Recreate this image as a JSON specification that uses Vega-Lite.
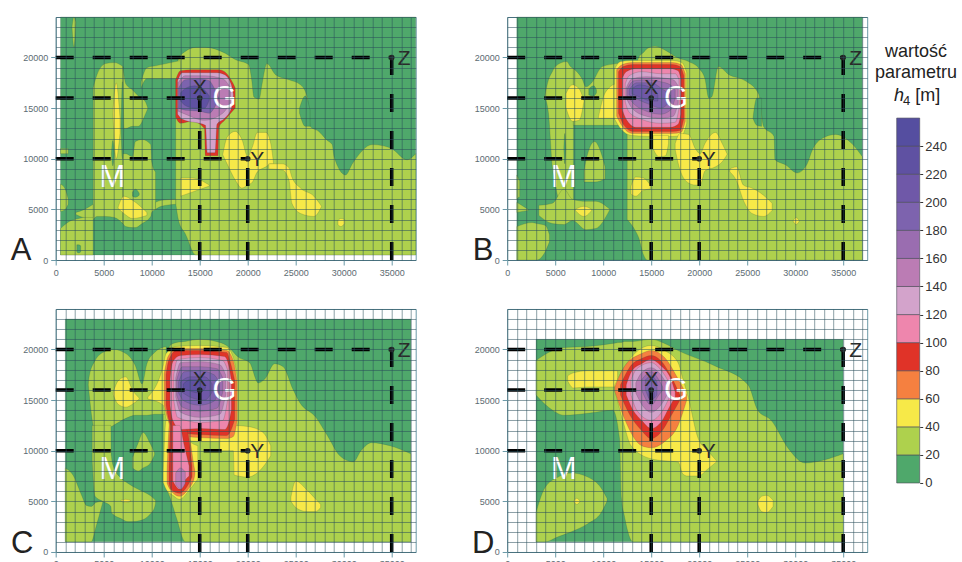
{"$schema":"https://vega.github.io/schema/vega-lite/v6.json","background":"white","padding":{"left":9.7,"top":12,"right":0,"bottom":0},
"config":{"view":{"stroke":"#6b9aa8","strokeWidth":1},"font":"Liberation Sans","axis":{"title":null,"grid":true,"gridColor":"#2a4f5c","gridOpacity":0.68,"gridWidth":0.8,"domain":false,"labelFontSize":9,"labelColor":"#5c6b72","labelOverlap":false,"labelFlush":false,"tickColor":"#6b9aa8","labelPadding":3}},
"datasets":{
"lines":[{"x":0,"x2":35000,"y":20000,"y2":20000},{"x":0,"x2":15000,"y":16000,"y2":16000},{"x":0,"x2":20000,"y":10000,"y2":10000},{"x":15000,"x2":15000,"y":0,"y2":16000},{"x":20000,"x2":20000,"y":0,"y2":10000},{"x":35000,"x2":35000,"y":0,"y2":20000}],
"points":[{"x":35000,"y":20000},{"x":15000,"y":16000},{"x":20000,"y":10000}],
"dark":[{"t":"X","x":15000,"y":16950},{"t":"Y","x":21000,"y":9870},{"t":"Z","x":36300,"y":19900}],
"white":[{"t":"G","x":17600,"y":15900},{"t":"M","x":5900,"y":8060}],
"letters":[{"p":"A","t":"A","x":-3600,"y":900},{"p":"B","t":"B","x":-2500,"y":900},{"p":"C","t":"C","x":-3500,"y":800},{"p":"D","t":"D","x":-2500,"y":800}],
"bins":[{"l":10,"x":0,"x2":1,"y":0,"y2":20},{"l":30,"x":0,"x2":1,"y":20,"y2":40},{"l":50,"x":0,"x2":1,"y":40,"y2":60},{"l":70,"x":0,"x2":1,"y":60,"y2":80},{"l":90,"x":0,"x2":1,"y":80,"y2":100},{"l":110,"x":0,"x2":1,"y":100,"y2":120},{"l":130,"x":0,"x2":1,"y":120,"y2":140},{"l":150,"x":0,"x2":1,"y":140,"y2":160},{"l":170,"x":0,"x2":1,"y":160,"y2":180},{"l":190,"x":0,"x2":1,"y":180,"y2":200},{"l":210,"x":0,"x2":1,"y":200,"y2":220},{"l":230,"x":0,"x2":1,"y":220,"y2":240},{"l":250,"x":0,"x2":1,"y":240,"y2":260}],
"contours":[
{"p":"A","b":0,"l":10,"x":500,"y":500,"y2":24000},{"p":"A","b":0,"l":10,"x":37500,"y":500,"y2":24000},
{"p":"A","b":1,"l":30,"x":12500,"y":5600,"y2":17900},{"p":"A","b":1,"l":30,"x":12800,"y":3900,"y2":19900},{"p":"A","b":1,"l":30,"x":13500,"y":2600,"y2":20600},{"p":"A","b":1,"l":30,"x":14600,"y":500,"y2":21000},{"p":"A","b":1,"l":30,"x":15600,"y":500,"y2":21000},{"p":"A","b":1,"l":30,"x":17700,"y":500,"y2":20400},{"p":"A","b":1,"l":30,"x":18700,"y":500,"y2":19800},{"p":"A","b":1,"l":30,"x":20100,"y":500,"y2":19300},{"p":"A","b":1,"l":30,"x":20400,"y":500,"y2":17900},{"p":"A","b":1,"l":30,"x":20650,"y":500,"y2":16100},{"p":"A","b":1,"l":30,"x":21200,"y":500,"y2":15900},{"p":"A","b":1,"l":30,"x":21500,"y":500,"y2":17400},{"p":"A","b":1,"l":30,"x":22000,"y":500,"y2":19400},{"p":"A","b":1,"l":30,"x":22900,"y":500,"y2":18300},{"p":"A","b":1,"l":30,"x":24300,"y":500,"y2":17800},{"p":"A","b":1,"l":30,"x":25500,"y":500,"y2":17300},{"p":"A","b":1,"l":30,"x":26200,"y":500,"y2":16100},{"p":"A","b":1,"l":30,"x":26500,"y":500,"y2":13200},{"p":"A","b":1,"l":30,"x":27400,"y":500,"y2":12700},{"p":"A","b":1,"l":30,"x":28300,"y":500,"y2":11800},{"p":"A","b":1,"l":30,"x":28800,"y":500,"y2":11400},{"p":"A","b":1,"l":30,"x":29000,"y":500,"y2":10200},{"p":"A","b":1,"l":30,"x":30200,"y":500,"y2":8400},{"p":"A","b":1,"l":30,"x":30900,"y":500,"y2":9500},{"p":"A","b":1,"l":30,"x":33000,"y":500,"y2":11400},{"p":"A","b":1,"l":30,"x":34000,"y":500,"y2":11300},{"p":"A","b":1,"l":30,"x":35000,"y":500,"y2":11000},{"p":"A","b":1,"l":30,"x":36600,"y":500,"y2":9900},{"p":"A","b":1,"l":30,"x":37500,"y":500,"y2":10500},
{"p":"A","b":2,"l":10,"x":25400,"y":14500,"y2":15000},{"p":"A","b":2,"l":10,"x":26000,"y":13200,"y2":16200},{"p":"A","b":2,"l":10,"x":26500,"y":13200,"y2":14800},
{"p":"A","b":3,"l":30,"x":8900,"y":17000,"y2":17600},{"p":"A","b":3,"l":30,"x":9500,"y":17900,"y2":19000},{"p":"A","b":3,"l":30,"x":10500,"y":17900,"y2":19200},{"p":"A","b":3,"l":30,"x":13000,"y":17900,"y2":19700},
{"p":"A","b":4,"l":30,"x":3900,"y":4000,"y2":17000},{"p":"A","b":4,"l":30,"x":4300,"y":4300,"y2":18300},{"p":"A","b":4,"l":30,"x":5200,"y":4300,"y2":19400},{"p":"A","b":4,"l":30,"x":6100,"y":4200,"y2":19500},{"p":"A","b":4,"l":30,"x":7000,"y":3600,"y2":19100},
{"p":"A","b":5,"l":30,"x":7000,"y":13000,"y2":19100},{"p":"A","b":5,"l":30,"x":7300,"y":13000,"y2":17400},{"p":"A","b":5,"l":30,"x":8000,"y":13200,"y2":16800},{"p":"A","b":5,"l":30,"x":8600,"y":13200,"y2":16200},{"p":"A","b":5,"l":30,"x":9300,"y":14300,"y2":15700},{"p":"A","b":5,"l":30,"x":9600,"y":15000,"y2":15000},
{"p":"A","b":6,"l":30,"x":7000,"y":3600,"y2":10500},{"p":"A","b":6,"l":30,"x":7300,"y":3300,"y2":10500},{"p":"A","b":6,"l":30,"x":8000,"y":3200,"y2":10200},{"p":"A","b":6,"l":30,"x":8300,"y":3200,"y2":11700},{"p":"A","b":6,"l":30,"x":9000,"y":3600,"y2":11900},{"p":"A","b":6,"l":30,"x":9900,"y":4300,"y2":11400},{"p":"A","b":6,"l":30,"x":10000,"y":4700,"y2":9700},{"p":"A","b":6,"l":30,"x":10400,"y":5000,"y2":8700},
{"p":"A","b":7,"l":30,"x":10400,"y":5000,"y2":5700},{"p":"A","b":7,"l":30,"x":11000,"y":5300,"y2":5900},{"p":"A","b":7,"l":30,"x":12500,"y":5500,"y2":6000},
{"p":"A","b":8,"l":30,"x":500,"y":500,"y2":3100},{"p":"A","b":8,"l":30,"x":1400,"y":500,"y2":3800},{"p":"A","b":8,"l":30,"x":2400,"y":500,"y2":4100},{"p":"A","b":8,"l":30,"x":3200,"y":500,"y2":4300},{"p":"A","b":8,"l":30,"x":3900,"y":500,"y2":4600},
{"p":"A","b":9,"l":30,"x":500,"y":4800,"y2":7500},{"p":"A","b":9,"l":30,"x":1000,"y":5000,"y2":7000},{"p":"A","b":9,"l":30,"x":1300,"y":5500,"y2":6000},
{"p":"A","b":10,"l":30,"x":500,"y":10500,"y2":11000},{"p":"A","b":10,"l":30,"x":1300,"y":10500,"y2":11000},
{"p":"A","b":11,"l":30,"x":2100,"y":4500,"y2":4700},{"p":"A","b":11,"l":30,"x":3000,"y":4200,"y2":5000},{"p":"A","b":11,"l":30,"x":3900,"y":4200,"y2":5500},
{"p":"A","b":12,"l":10,"x":2200,"y":800,"y2":1500},{"p":"A","b":12,"l":10,"x":2400,"y":700,"y2":1500},{"p":"A","b":12,"l":10,"x":2600,"y":800,"y2":1400},
{"p":"A","b":13,"l":10,"x":8000,"y":6300,"y2":6700},{"p":"A","b":13,"l":10,"x":8300,"y":6200,"y2":7000},{"p":"A","b":13,"l":10,"x":8700,"y":6400,"y2":6600},
{"p":"A","b":14,"l":10,"x":5800,"y":10500,"y2":10500},{"p":"A","b":14,"l":10,"x":5950,"y":9300,"y2":11800},{"p":"A","b":14,"l":10,"x":6100,"y":10500,"y2":10500},
{"p":"A","b":15,"l":10,"x":6800,"y":13000,"y2":13000},{"p":"A","b":15,"l":10,"x":6950,"y":10000,"y2":17600},{"p":"A","b":15,"l":10,"x":7100,"y":13000,"y2":13000},
{"p":"A","b":16,"l":30,"x":1700,"y":23000,"y2":23000},{"p":"A","b":16,"l":30,"x":1900,"y":21000,"y2":24000},{"p":"A","b":16,"l":30,"x":2100,"y":23500,"y2":23500},
{"p":"A","b":17,"l":50,"x":5950,"y":14500,"y2":14500},{"p":"A","b":17,"l":50,"x":6300,"y":10000,"y2":17500},{"p":"A","b":17,"l":50,"x":6700,"y":12500,"y2":14000},
{"p":"A","b":18,"l":50,"x":17400,"y":10400,"y2":10400},{"p":"A","b":18,"l":50,"x":17900,"y":9400,"y2":12200},{"p":"A","b":18,"l":50,"x":18700,"y":7900,"y2":12700},{"p":"A","b":18,"l":50,"x":19400,"y":7100,"y2":11900},{"p":"A","b":18,"l":50,"x":20000,"y":7400,"y2":10200},{"p":"A","b":18,"l":50,"x":20500,"y":7700,"y2":11200},{"p":"A","b":18,"l":50,"x":21000,"y":8700,"y2":12600},{"p":"A","b":18,"l":50,"x":21900,"y":9200,"y2":12600},{"p":"A","b":18,"l":50,"x":22400,"y":9500,"y2":11500},{"p":"A","b":18,"l":50,"x":22700,"y":9500,"y2":9500},
{"p":"A","b":19,"l":50,"x":22200,"y":9000,"y2":9500},{"p":"A","b":19,"l":50,"x":23600,"y":8900,"y2":9500},{"p":"A","b":19,"l":50,"x":24300,"y":7900,"y2":9100},{"p":"A","b":19,"l":50,"x":24600,"y":5600,"y2":8200},{"p":"A","b":19,"l":50,"x":25500,"y":4600,"y2":7100},{"p":"A","b":19,"l":50,"x":26900,"y":4300,"y2":6300},{"p":"A","b":19,"l":50,"x":27700,"y":5300,"y2":5300},
{"p":"A","b":20,"l":50,"x":13000,"y":6300,"y2":8100},{"p":"A","b":20,"l":50,"x":14200,"y":6700,"y2":8100},{"p":"A","b":20,"l":50,"x":16000,"y":7300,"y2":7400},
{"p":"A","b":21,"l":50,"x":6500,"y":5100,"y2":5200},{"p":"A","b":21,"l":50,"x":7100,"y":4600,"y2":6300},{"p":"A","b":21,"l":50,"x":8000,"y":4100,"y2":5900},{"p":"A","b":21,"l":50,"x":9500,"y":4400,"y2":4700},
{"p":"A","b":22,"l":50,"x":29400,"y":3500,"y2":3900},{"p":"A","b":22,"l":50,"x":29700,"y":3300,"y2":4100},{"p":"A","b":22,"l":50,"x":30100,"y":3600,"y2":4000},
{"p":"A","b":23,"l":90,"x":12500,"y":14100,"y2":17800},{"p":"A","b":23,"l":90,"x":13000,"y":13500,"y2":18700},{"p":"A","b":23,"l":90,"x":14200,"y":13700,"y2":18800},{"p":"A","b":23,"l":90,"x":15500,"y":13000,"y2":18800},{"p":"A","b":23,"l":90,"x":15600,"y":10300,"y2":18800},{"p":"A","b":23,"l":90,"x":16900,"y":10300,"y2":18800},{"p":"A","b":23,"l":90,"x":17000,"y":13100,"y2":18800},{"p":"A","b":23,"l":90,"x":17600,"y":13800,"y2":18600},{"p":"A","b":23,"l":90,"x":18500,"y":14800,"y2":17400},{"p":"A","b":23,"l":90,"x":18700,"y":15000,"y2":17000},
{"p":"A","b":24,"l":130,"x":12700,"y":14400,"y2":17700},{"p":"A","b":24,"l":130,"x":13200,"y":13900,"y2":18500},{"p":"A","b":24,"l":130,"x":15600,"y":13300,"y2":18500},{"p":"A","b":24,"l":130,"x":15800,"y":10600,"y2":18500},{"p":"A","b":24,"l":130,"x":16600,"y":10600,"y2":18500},{"p":"A","b":24,"l":130,"x":16800,"y":13400,"y2":18500},{"p":"A","b":24,"l":130,"x":17600,"y":14000,"y2":18300},{"p":"A","b":24,"l":130,"x":18300,"y":15000,"y2":17300},{"p":"A","b":24,"l":130,"x":18500,"y":15800,"y2":16400},
{"p":"A","b":25,"l":150,"x":12750,"y":14700,"y2":17500},{"p":"A","b":25,"l":150,"x":13500,"y":14400,"y2":18200},{"p":"A","b":25,"l":150,"x":15500,"y":13800,"y2":18200},{"p":"A","b":25,"l":150,"x":17400,"y":14500,"y2":17900},{"p":"A","b":25,"l":150,"x":18200,"y":15500,"y2":17000},
{"p":"A","b":26,"l":190,"x":12800,"y":15000,"y2":17000},{"p":"A","b":26,"l":190,"x":13500,"y":14800,"y2":17800},{"p":"A","b":26,"l":190,"x":15000,"y":14700,"y2":17900},{"p":"A","b":26,"l":190,"x":16000,"y":14500,"y2":17700},{"p":"A","b":26,"l":190,"x":16500,"y":15000,"y2":17000},{"p":"A","b":26,"l":190,"x":17000,"y":16000,"y2":16000},
{"p":"A","b":27,"l":230,"x":13000,"y":15700,"y2":16500},{"p":"A","b":27,"l":230,"x":13600,"y":15200,"y2":17000},{"p":"A","b":27,"l":230,"x":14500,"y":15000,"y2":17200},{"p":"A","b":27,"l":230,"x":15500,"y":15000,"y2":16800},{"p":"A","b":27,"l":230,"x":16000,"y":15800,"y2":16200},

{"p":"B","b":0,"l":10,"x":1000,"y":0,"y2":24000},{"p":"B","b":0,"l":10,"x":37000,"y":0,"y2":24000},
{"p":"B","b":1,"l":30,"x":12500,"y":4000,"y2":14000},{"p":"B","b":1,"l":30,"x":13400,"y":2800,"y2":19000},{"p":"B","b":1,"l":30,"x":13700,"y":2200,"y2":20000},{"p":"B","b":1,"l":30,"x":14200,"y":500,"y2":20500},{"p":"B","b":1,"l":30,"x":14600,"y":0,"y2":20900},{"p":"B","b":1,"l":30,"x":15400,"y":0,"y2":21100},{"p":"B","b":1,"l":30,"x":16500,"y":0,"y2":20700},{"p":"B","b":1,"l":30,"x":17700,"y":0,"y2":20000},{"p":"B","b":1,"l":30,"x":18900,"y":0,"y2":19600},{"p":"B","b":1,"l":30,"x":20000,"y":0,"y2":18900},{"p":"B","b":1,"l":30,"x":20600,"y":0,"y2":17900},{"p":"B","b":1,"l":30,"x":21000,"y":0,"y2":16000},{"p":"B","b":1,"l":30,"x":21300,"y":0,"y2":16100},{"p":"B","b":1,"l":30,"x":22000,"y":0,"y2":19100},{"p":"B","b":1,"l":30,"x":23100,"y":0,"y2":18300},{"p":"B","b":1,"l":30,"x":24800,"y":0,"y2":17700},{"p":"B","b":1,"l":30,"x":26200,"y":0,"y2":16400},{"p":"B","b":1,"l":30,"x":26700,"y":0,"y2":13200},{"p":"B","b":1,"l":30,"x":27800,"y":0,"y2":12200},{"p":"B","b":1,"l":30,"x":27900,"y":0,"y2":9900},{"p":"B","b":1,"l":30,"x":29000,"y":0,"y2":9400},{"p":"B","b":1,"l":30,"x":30200,"y":0,"y2":8600},{"p":"B","b":1,"l":30,"x":31200,"y":0,"y2":9400},{"p":"B","b":1,"l":30,"x":31800,"y":0,"y2":10900},{"p":"B","b":1,"l":30,"x":32800,"y":0,"y2":12000},{"p":"B","b":1,"l":30,"x":34200,"y":0,"y2":12400},{"p":"B","b":1,"l":30,"x":35900,"y":0,"y2":11500},{"p":"B","b":1,"l":30,"x":37000,"y":0,"y2":10200},
{"p":"B","b":2,"l":10,"x":25600,"y":14000,"y2":14000},{"p":"B","b":2,"l":10,"x":26000,"y":13300,"y2":16000},{"p":"B","b":2,"l":10,"x":26500,"y":13200,"y2":16000},
{"p":"B","b":3,"l":30,"x":3900,"y":16100,"y2":16100},{"p":"B","b":3,"l":30,"x":4300,"y":14500,"y2":17800},{"p":"B","b":3,"l":30,"x":4700,"y":9200,"y2":18600},{"p":"B","b":3,"l":30,"x":5000,"y":7500,"y2":19100},{"p":"B","b":3,"l":30,"x":6200,"y":3900,"y2":19600},{"p":"B","b":3,"l":30,"x":6600,"y":3900,"y2":19100},{"p":"B","b":3,"l":30,"x":6900,"y":3900,"y2":18900},
{"p":"B","b":4,"l":30,"x":6900,"y":13300,"y2":18900},{"p":"B","b":4,"l":30,"x":7800,"y":13300,"y2":17900},{"p":"B","b":4,"l":30,"x":8200,"y":13300,"y2":17100},{"p":"B","b":4,"l":30,"x":8800,"y":13300,"y2":17500},{"p":"B","b":4,"l":30,"x":9900,"y":13300,"y2":19100},{"p":"B","b":4,"l":30,"x":11400,"y":13300,"y2":19400},{"p":"B","b":4,"l":30,"x":12500,"y":13700,"y2":19600},
{"p":"B","b":5,"l":10,"x":8500,"y":16300,"y2":16900},{"p":"B","b":5,"l":10,"x":9000,"y":16200,"y2":17200},{"p":"B","b":5,"l":10,"x":9300,"y":16500,"y2":16800},
{"p":"B","b":6,"l":30,"x":8000,"y":7700,"y2":8800},{"p":"B","b":6,"l":30,"x":8300,"y":7700,"y2":10200},{"p":"B","b":6,"l":30,"x":9100,"y":7700,"y2":11700},{"p":"B","b":6,"l":30,"x":9700,"y":7800,"y2":10800},{"p":"B","b":6,"l":30,"x":10200,"y":8000,"y2":9200},
{"p":"B","b":7,"l":30,"x":3300,"y":4400,"y2":5400},{"p":"B","b":7,"l":30,"x":4700,"y":3600,"y2":5600},{"p":"B","b":7,"l":30,"x":5900,"y":3500,"y2":7000},{"p":"B","b":7,"l":30,"x":6800,"y":3900,"y2":6000},{"p":"B","b":7,"l":30,"x":8200,"y":3000,"y2":5800},{"p":"B","b":7,"l":30,"x":9200,"y":3100,"y2":5800},{"p":"B","b":7,"l":30,"x":10700,"y":5000,"y2":5000},
{"p":"B","b":8,"l":30,"x":1000,"y":0,"y2":3300},{"p":"B","b":8,"l":30,"x":2600,"y":0,"y2":3700},{"p":"B","b":8,"l":30,"x":3100,"y":0,"y2":3600},{"p":"B","b":8,"l":30,"x":4000,"y":900,"y2":3400},{"p":"B","b":8,"l":30,"x":4400,"y":1800,"y2":2500},
{"p":"B","b":9,"l":30,"x":1000,"y":4700,"y2":5700},{"p":"B","b":9,"l":30,"x":2200,"y":4900,"y2":5000},
{"p":"B","b":10,"l":30,"x":1000,"y":6000,"y2":8400},{"p":"B","b":10,"l":30,"x":1300,"y":6300,"y2":7800},
{"p":"B","b":11,"l":10,"x":5900,"y":11000,"y2":11000},{"p":"B","b":11,"l":10,"x":6000,"y":9500,"y2":12500},{"p":"B","b":11,"l":10,"x":6100,"y":11000,"y2":11000},
{"p":"B","b":12,"l":50,"x":6100,"y":15100,"y2":16400},{"p":"B","b":12,"l":50,"x":6800,"y":13700,"y2":17300},{"p":"B","b":12,"l":50,"x":7500,"y":13800,"y2":16900},{"p":"B","b":12,"l":50,"x":8000,"y":15700,"y2":15700},
{"p":"B","b":13,"l":50,"x":9500,"y":14000,"y2":14100},{"p":"B","b":13,"l":50,"x":10100,"y":14000,"y2":16300},{"p":"B","b":13,"l":50,"x":10600,"y":14000,"y2":17000},{"p":"B","b":13,"l":50,"x":11300,"y":14000,"y2":17400},
{"p":"B","b":14,"l":50,"x":11200,"y":13900,"y2":18900},{"p":"B","b":14,"l":50,"x":11800,"y":13000,"y2":19600},{"p":"B","b":14,"l":50,"x":13000,"y":12300,"y2":19700},{"p":"B","b":14,"l":50,"x":15100,"y":12200,"y2":19700},{"p":"B","b":14,"l":50,"x":17200,"y":12200,"y2":19700},{"p":"B","b":14,"l":50,"x":18200,"y":12300,"y2":19500},{"p":"B","b":14,"l":50,"x":18700,"y":13500,"y2":18500},
{"p":"B","b":15,"l":50,"x":15200,"y":11000,"y2":12300},{"p":"B","b":15,"l":50,"x":15800,"y":10200,"y2":12300},{"p":"B","b":15,"l":50,"x":16500,"y":10300,"y2":12300},{"p":"B","b":15,"l":50,"x":16800,"y":11500,"y2":12300},
{"p":"B","b":16,"l":50,"x":17500,"y":10900,"y2":11500},{"p":"B","b":16,"l":50,"x":18000,"y":8900,"y2":12500},{"p":"B","b":16,"l":50,"x":18900,"y":7600,"y2":12400},{"p":"B","b":16,"l":50,"x":19600,"y":7400,"y2":11000},{"p":"B","b":16,"l":50,"x":20100,"y":7400,"y2":10500},{"p":"B","b":16,"l":50,"x":20600,"y":8800,"y2":11500},{"p":"B","b":16,"l":50,"x":21700,"y":9200,"y2":12600},{"p":"B","b":16,"l":50,"x":22400,"y":9700,"y2":11500},{"p":"B","b":16,"l":50,"x":22900,"y":10400,"y2":10500},
{"p":"B","b":17,"l":50,"x":23200,"y":8700,"y2":9000},{"p":"B","b":17,"l":50,"x":23900,"y":7800,"y2":9200},{"p":"B","b":17,"l":50,"x":24600,"y":5900,"y2":7400},{"p":"B","b":17,"l":50,"x":25500,"y":4600,"y2":7100},{"p":"B","b":17,"l":50,"x":26700,"y":4300,"y2":6400},{"p":"B","b":17,"l":50,"x":27600,"y":4900,"y2":5600},
{"p":"B","b":18,"l":50,"x":12900,"y":6500,"y2":7300},{"p":"B","b":18,"l":50,"x":13400,"y":6300,"y2":8200},{"p":"B","b":18,"l":50,"x":14200,"y":6900,"y2":8100},{"p":"B","b":18,"l":50,"x":14900,"y":7000,"y2":7400},
{"p":"B","b":19,"l":50,"x":7100,"y":4900,"y2":5000},{"p":"B","b":19,"l":50,"x":8000,"y":4300,"y2":5300},{"p":"B","b":19,"l":50,"x":8800,"y":4900,"y2":5000},
{"p":"B","b":20,"l":50,"x":29800,"y":3800,"y2":3900},{"p":"B","b":20,"l":50,"x":30100,"y":3500,"y2":4200},{"p":"B","b":20,"l":50,"x":30400,"y":3800,"y2":3900},
{"p":"B","b":21,"l":70,"x":11400,"y":14200,"y2":18800},{"p":"B","b":21,"l":70,"x":12000,"y":13200,"y2":19300},{"p":"B","b":21,"l":70,"x":13000,"y":12500,"y2":19500},{"p":"B","b":21,"l":70,"x":15100,"y":12500,"y2":19500},{"p":"B","b":21,"l":70,"x":17200,"y":12500,"y2":19500},{"p":"B","b":21,"l":70,"x":18100,"y":12600,"y2":19300},{"p":"B","b":21,"l":70,"x":18550,"y":13700,"y2":18400},
{"p":"B","b":22,"l":90,"x":11600,"y":14500,"y2":18600},{"p":"B","b":22,"l":90,"x":12100,"y":13400,"y2":19100},{"p":"B","b":22,"l":90,"x":13100,"y":12700,"y2":19300},{"p":"B","b":22,"l":90,"x":15100,"y":12700,"y2":19300},{"p":"B","b":22,"l":90,"x":17200,"y":12700,"y2":19300},{"p":"B","b":22,"l":90,"x":18000,"y":12800,"y2":19100},{"p":"B","b":22,"l":90,"x":18400,"y":14000,"y2":18200},
{"p":"B","b":23,"l":110,"x":12000,"y":14800,"y2":18000},{"p":"B","b":23,"l":110,"x":12400,"y":13900,"y2":18600},{"p":"B","b":23,"l":110,"x":13400,"y":13100,"y2":18900},{"p":"B","b":23,"l":110,"x":15100,"y":13100,"y2":18900},{"p":"B","b":23,"l":110,"x":17000,"y":13100,"y2":18900},{"p":"B","b":23,"l":110,"x":17800,"y":13400,"y2":18700},{"p":"B","b":23,"l":110,"x":18100,"y":14400,"y2":17900},
{"p":"B","b":24,"l":130,"x":12300,"y":15600,"y2":17400},{"p":"B","b":24,"l":130,"x":12700,"y":14600,"y2":18200},{"p":"B","b":24,"l":130,"x":14000,"y":13900,"y2":18600},{"p":"B","b":24,"l":130,"x":16000,"y":13500,"y2":18400},{"p":"B","b":24,"l":130,"x":17500,"y":13600,"y2":18400},{"p":"B","b":24,"l":130,"x":17900,"y":15000,"y2":17800},
{"p":"B","b":25,"l":150,"x":12400,"y":16000,"y2":17000},{"p":"B","b":25,"l":150,"x":13000,"y":15000,"y2":17900},{"p":"B","b":25,"l":150,"x":14500,"y":14200,"y2":18100},{"p":"B","b":25,"l":150,"x":16000,"y":14000,"y2":18000},{"p":"B","b":25,"l":150,"x":17300,"y":14200,"y2":17800},{"p":"B","b":25,"l":150,"x":17800,"y":15500,"y2":17200},
{"p":"B","b":26,"l":170,"x":12500,"y":16200,"y2":16900},{"p":"B","b":26,"l":170,"x":13200,"y":15400,"y2":17700},{"p":"B","b":26,"l":170,"x":14500,"y":14700,"y2":17800},{"p":"B","b":26,"l":170,"x":16000,"y":14400,"y2":17600},{"p":"B","b":26,"l":170,"x":17000,"y":14800,"y2":17300},{"p":"B","b":26,"l":170,"x":17500,"y":16000,"y2":16800},
{"p":"B","b":27,"l":190,"x":12700,"y":16300,"y2":16800},{"p":"B","b":27,"l":190,"x":13500,"y":15900,"y2":17500},{"p":"B","b":27,"l":190,"x":15000,"y":15300,"y2":17500},{"p":"B","b":27,"l":190,"x":16000,"y":15000,"y2":17000},{"p":"B","b":27,"l":190,"x":17000,"y":15700,"y2":16300},
{"p":"B","b":28,"l":210,"x":13000,"y":16400,"y2":16900},{"p":"B","b":28,"l":210,"x":13800,"y":16100,"y2":17300},{"p":"B","b":28,"l":210,"x":15000,"y":15700,"y2":17000},{"p":"B","b":28,"l":210,"x":15700,"y":15700,"y2":16300},

{"p":"C","b":0,"l":10,"x":1000,"y":1000,"y2":23000},{"p":"C","b":0,"l":10,"x":37000,"y":1000,"y2":23000},
{"p":"C","b":1,"l":30,"x":11200,"y":6900,"y2":13500},{"p":"C","b":1,"l":30,"x":11900,"y":5400,"y2":20400},{"p":"C","b":1,"l":30,"x":12600,"y":3300,"y2":20700},{"p":"C","b":1,"l":30,"x":13500,"y":1000,"y2":20800},{"p":"C","b":1,"l":30,"x":15000,"y":1000,"y2":21000},{"p":"C","b":1,"l":30,"x":16700,"y":1000,"y2":20800},{"p":"C","b":1,"l":30,"x":17800,"y":1000,"y2":20400},{"p":"C","b":1,"l":30,"x":19100,"y":1000,"y2":19200},{"p":"C","b":1,"l":30,"x":20200,"y":1000,"y2":18700},{"p":"C","b":1,"l":30,"x":21100,"y":1000,"y2":16700},{"p":"C","b":1,"l":30,"x":21800,"y":1000,"y2":17100},{"p":"C","b":1,"l":30,"x":22800,"y":1000,"y2":18600},{"p":"C","b":1,"l":30,"x":23700,"y":1000,"y2":18300},{"p":"C","b":1,"l":30,"x":24700,"y":1000,"y2":16100},{"p":"C","b":1,"l":30,"x":25400,"y":1000,"y2":14800},{"p":"C","b":1,"l":30,"x":27100,"y":1000,"y2":13300},{"p":"C","b":1,"l":30,"x":28300,"y":1000,"y2":11500},{"p":"C","b":1,"l":30,"x":29600,"y":1000,"y2":9500},{"p":"C","b":1,"l":30,"x":31000,"y":1000,"y2":8900},{"p":"C","b":1,"l":30,"x":31800,"y":1000,"y2":10000},{"p":"C","b":1,"l":30,"x":32900,"y":1000,"y2":10800},{"p":"C","b":1,"l":30,"x":34800,"y":1000,"y2":10500},{"p":"C","b":1,"l":30,"x":37000,"y":1000,"y2":9700},
{"p":"C","b":2,"l":30,"x":3400,"y":16500,"y2":16600},{"p":"C","b":2,"l":30,"x":3500,"y":15500,"y2":17400},{"p":"C","b":2,"l":30,"x":4100,"y":12000,"y2":18900},{"p":"C","b":2,"l":30,"x":4900,"y":12000,"y2":19700},{"p":"C","b":2,"l":30,"x":6000,"y":12500,"y2":20000},{"p":"C","b":2,"l":30,"x":7300,"y":13200,"y2":19600},{"p":"C","b":2,"l":30,"x":8300,"y":13500,"y2":18400},{"p":"C","b":2,"l":30,"x":9000,"y":13500,"y2":16600},{"p":"C","b":2,"l":30,"x":9500,"y":13500,"y2":18600},{"p":"C","b":2,"l":30,"x":10300,"y":13600,"y2":19700},{"p":"C","b":2,"l":30,"x":11500,"y":13600,"y2":20300},
{"p":"C","b":3,"l":30,"x":1000,"y":1000,"y2":8300},{"p":"C","b":3,"l":30,"x":1800,"y":1000,"y2":7600},{"p":"C","b":3,"l":30,"x":2700,"y":1000,"y2":5600},{"p":"C","b":3,"l":30,"x":3200,"y":1000,"y2":4600},{"p":"C","b":3,"l":30,"x":3700,"y":1000,"y2":4500},{"p":"C","b":3,"l":30,"x":4200,"y":2500,"y2":4900},{"p":"C","b":3,"l":30,"x":4900,"y":4900,"y2":5000},
{"p":"C","b":4,"l":30,"x":3800,"y":9000,"y2":12500},{"p":"C","b":4,"l":30,"x":4100,"y":5500,"y2":12500},{"p":"C","b":4,"l":30,"x":4900,"y":5000,"y2":12500},{"p":"C","b":4,"l":30,"x":5750,"y":4500,"y2":12500},{"p":"C","b":4,"l":30,"x":5800,"y":3900,"y2":9500},{"p":"C","b":4,"l":30,"x":6000,"y":3700,"y2":8500},{"p":"C","b":4,"l":30,"x":6800,"y":3300,"y2":7300},{"p":"C","b":4,"l":30,"x":7500,"y":3000,"y2":6800},{"p":"C","b":4,"l":30,"x":8000,"y":3000,"y2":6500},{"p":"C","b":4,"l":30,"x":8800,"y":3100,"y2":6100},{"p":"C","b":4,"l":30,"x":9800,"y":3700,"y2":5600},{"p":"C","b":4,"l":30,"x":10300,"y":4400,"y2":5200},{"p":"C","b":4,"l":30,"x":10400,"y":4800,"y2":5100},
{"p":"C","b":5,"l":30,"x":8000,"y":8300,"y2":9300},{"p":"C","b":5,"l":30,"x":8600,"y":8000,"y2":10800},{"p":"C","b":5,"l":30,"x":9100,"y":8300,"y2":11800},{"p":"C","b":5,"l":30,"x":9800,"y":8700,"y2":10800},{"p":"C","b":5,"l":30,"x":10300,"y":9600,"y2":9800},
{"p":"C","b":6,"l":50,"x":6000,"y":15500,"y2":15800},{"p":"C","b":6,"l":50,"x":6500,"y":14600,"y2":16900},{"p":"C","b":6,"l":50,"x":7300,"y":14300,"y2":17300},{"p":"C","b":6,"l":50,"x":8000,"y":14600,"y2":16000},{"p":"C","b":6,"l":50,"x":8700,"y":15100,"y2":15200},
{"p":"C","b":7,"l":50,"x":9600,"y":15100,"y2":15300},{"p":"C","b":7,"l":50,"x":11200,"y":14500,"y2":18400},{"p":"C","b":7,"l":50,"x":11500,"y":13200,"y2":19600},{"p":"C","b":7,"l":50,"x":12600,"y":11200,"y2":20300},{"p":"C","b":7,"l":50,"x":15000,"y":10900,"y2":20400},{"p":"C","b":7,"l":50,"x":17800,"y":10900,"y2":20200},{"p":"C","b":7,"l":50,"x":18500,"y":11200,"y2":19200},{"p":"C","b":7,"l":50,"x":19000,"y":12800,"y2":16800},
{"p":"C","b":8,"l":50,"x":17100,"y":10000,"y2":12500},{"p":"C","b":8,"l":50,"x":18500,"y":10000,"y2":12500},{"p":"C","b":8,"l":50,"x":18600,"y":7600,"y2":12500},{"p":"C","b":8,"l":50,"x":20000,"y":7400,"y2":12400},{"p":"C","b":8,"l":50,"x":21600,"y":8400,"y2":11800},{"p":"C","b":8,"l":50,"x":22400,"y":9500,"y2":10500},
{"p":"C","b":9,"l":50,"x":11200,"y":6900,"y2":7700},{"p":"C","b":9,"l":50,"x":11500,"y":6200,"y2":13000},{"p":"C","b":9,"l":50,"x":12200,"y":5600,"y2":13000},{"p":"C","b":9,"l":50,"x":12900,"y":5200,"y2":13000},{"p":"C","b":9,"l":50,"x":13900,"y":6100,"y2":11000},{"p":"C","b":9,"l":50,"x":14800,"y":7200,"y2":10500},
{"p":"C","b":10,"l":50,"x":6800,"y":5000,"y2":5100},{"p":"C","b":10,"l":50,"x":7300,"y":4900,"y2":5200},{"p":"C","b":10,"l":50,"x":7800,"y":5000,"y2":5100},
{"p":"C","b":11,"l":50,"x":24500,"y":5000,"y2":5400},{"p":"C","b":11,"l":50,"x":25000,"y":4400,"y2":7000},{"p":"C","b":11,"l":50,"x":26100,"y":4000,"y2":6200},{"p":"C","b":11,"l":50,"x":27100,"y":4000,"y2":5200},{"p":"C","b":11,"l":50,"x":27600,"y":4400,"y2":4700},
{"p":"C","b":12,"l":70,"x":11300,"y":14500,"y2":17600},{"p":"C","b":12,"l":70,"x":11700,"y":13000,"y2":19300},{"p":"C","b":12,"l":70,"x":12600,"y":11500,"y2":20100},{"p":"C","b":12,"l":70,"x":15000,"y":11300,"y2":20100},{"p":"C","b":12,"l":70,"x":17800,"y":11200,"y2":19900},{"p":"C","b":12,"l":70,"x":18500,"y":11400,"y2":18900},{"p":"C","b":12,"l":70,"x":18900,"y":13000,"y2":16800},
{"p":"C","b":13,"l":70,"x":11600,"y":6800,"y2":8000},{"p":"C","b":13,"l":70,"x":11900,"y":6200,"y2":13000},{"p":"C","b":13,"l":70,"x":12900,"y":5500,"y2":13000},{"p":"C","b":13,"l":70,"x":13800,"y":6200,"y2":12000},{"p":"C","b":13,"l":70,"x":14400,"y":7200,"y2":8500},{"p":"C","b":13,"l":70,"x":14500,"y":7700,"y2":8000},
{"p":"C","b":14,"l":90,"x":11500,"y":14500,"y2":17500},{"p":"C","b":14,"l":90,"x":11800,"y":13000,"y2":19000},{"p":"C","b":14,"l":90,"x":12600,"y":11800,"y2":19900},{"p":"C","b":14,"l":90,"x":15000,"y":11600,"y2":19900},{"p":"C","b":14,"l":90,"x":17800,"y":11500,"y2":19700},{"p":"C","b":14,"l":90,"x":18200,"y":11900,"y2":18700},{"p":"C","b":14,"l":90,"x":18650,"y":13100,"y2":16900},
{"p":"C","b":15,"l":90,"x":11800,"y":6800,"y2":8000},{"p":"C","b":15,"l":90,"x":12000,"y":6200,"y2":13000},{"p":"C","b":15,"l":90,"x":12900,"y":5800,"y2":13000},{"p":"C","b":15,"l":90,"x":13700,"y":6500,"y2":12000},{"p":"C","b":15,"l":90,"x":14200,"y":7400,"y2":8500},
{"p":"C","b":16,"l":110,"x":11900,"y":14500,"y2":17000},{"p":"C","b":16,"l":110,"x":12200,"y":13000,"y2":18800},{"p":"C","b":16,"l":110,"x":13000,"y":12100,"y2":19400},{"p":"C","b":16,"l":110,"x":15000,"y":12200,"y2":19500},{"p":"C","b":16,"l":110,"x":17600,"y":12100,"y2":19300},{"p":"C","b":16,"l":110,"x":18000,"y":12700,"y2":18500},{"p":"C","b":16,"l":110,"x":18300,"y":14000,"y2":17000},
{"p":"C","b":17,"l":110,"x":12200,"y":7000,"y2":12500},{"p":"C","b":17,"l":110,"x":12900,"y":6200,"y2":12500},{"p":"C","b":17,"l":110,"x":13400,"y":7000,"y2":10500},{"p":"C","b":17,"l":110,"x":13900,"y":7500,"y2":8500},
{"p":"C","b":18,"l":150,"x":12500,"y":6700,"y2":7800},{"p":"C","b":18,"l":150,"x":13000,"y":6200,"y2":8300},{"p":"C","b":18,"l":150,"x":13500,"y":6800,"y2":7900},
{"p":"C","b":19,"l":130,"x":12300,"y":15000,"y2":17500},{"p":"C","b":19,"l":130,"x":12700,"y":13300,"y2":19000},{"p":"C","b":19,"l":130,"x":15000,"y":12800,"y2":19200},{"p":"C","b":19,"l":130,"x":17400,"y":13000,"y2":18900},{"p":"C","b":19,"l":130,"x":17900,"y":15000,"y2":18000},
{"p":"C","b":20,"l":150,"x":12500,"y":15300,"y2":17200},{"p":"C","b":20,"l":150,"x":13000,"y":13800,"y2":18700},{"p":"C","b":20,"l":150,"x":15000,"y":13300,"y2":18800},{"p":"C","b":20,"l":150,"x":17100,"y":13600,"y2":18500},{"p":"C","b":20,"l":150,"x":17700,"y":15500,"y2":17500},
{"p":"C","b":21,"l":170,"x":12600,"y":15500,"y2":17000},{"p":"C","b":21,"l":170,"x":13200,"y":14300,"y2":18300},{"p":"C","b":21,"l":170,"x":15000,"y":13900,"y2":18300},{"p":"C","b":21,"l":170,"x":16800,"y":14200,"y2":18100},{"p":"C","b":21,"l":170,"x":17400,"y":15800,"y2":17200},
{"p":"C","b":22,"l":190,"x":12800,"y":15700,"y2":16800},{"p":"C","b":22,"l":190,"x":13400,"y":14900,"y2":17800},{"p":"C","b":22,"l":190,"x":15000,"y":14500,"y2":17900},{"p":"C","b":22,"l":190,"x":16500,"y":14900,"y2":17500},{"p":"C","b":22,"l":190,"x":17000,"y":16000,"y2":16800},
{"p":"C","b":23,"l":210,"x":13000,"y":15900,"y2":16800},{"p":"C","b":23,"l":210,"x":14000,"y":15300,"y2":17300},{"p":"C","b":23,"l":210,"x":15500,"y":15000,"y2":17300},{"p":"C","b":23,"l":210,"x":16300,"y":15800,"y2":16600},
{"p":"C","b":24,"l":230,"x":13300,"y":16200,"y2":16600},{"p":"C","b":24,"l":230,"x":14000,"y":15900,"y2":17000},{"p":"C","b":24,"l":230,"x":15000,"y":15700,"y2":17000},{"p":"C","b":24,"l":230,"x":15600,"y":16200,"y2":16500},

{"p":"D","b":0,"l":10,"x":3000,"y":1000,"y2":21000},{"p":"D","b":0,"l":10,"x":35000,"y":1000,"y2":21000},
{"p":"D","b":1,"l":30,"x":3000,"y":15500,"y2":18900},{"p":"D","b":1,"l":30,"x":4300,"y":14300,"y2":19700},{"p":"D","b":1,"l":30,"x":6000,"y":13500,"y2":20200},{"p":"D","b":1,"l":30,"x":8400,"y":13700,"y2":20300},{"p":"D","b":1,"l":30,"x":11000,"y":14000,"y2":20600},{"p":"D","b":1,"l":30,"x":11700,"y":11200,"y2":20700},{"p":"D","b":1,"l":30,"x":11900,"y":5300,"y2":20700},{"p":"D","b":1,"l":30,"x":12200,"y":3600,"y2":20800},{"p":"D","b":1,"l":30,"x":13100,"y":1000,"y2":20800},{"p":"D","b":1,"l":30,"x":15000,"y":1000,"y2":21000},{"p":"D","b":1,"l":30,"x":16400,"y":1000,"y2":20600},{"p":"D","b":1,"l":30,"x":17800,"y":1000,"y2":19900},{"p":"D","b":1,"l":30,"x":21600,"y":1000,"y2":18400},{"p":"D","b":1,"l":30,"x":25100,"y":1000,"y2":16500},{"p":"D","b":1,"l":30,"x":26100,"y":1000,"y2":14000},{"p":"D","b":1,"l":30,"x":27500,"y":1000,"y2":13000},{"p":"D","b":1,"l":30,"x":29300,"y":1000,"y2":10200},{"p":"D","b":1,"l":30,"x":31000,"y":1000,"y2":8800},{"p":"D","b":1,"l":30,"x":35000,"y":1000,"y2":9700},
{"p":"D","b":2,"l":30,"x":3000,"y":1000,"y2":3900},{"p":"D","b":2,"l":30,"x":3900,"y":1000,"y2":6300},{"p":"D","b":2,"l":30,"x":5300,"y":1500,"y2":7400},{"p":"D","b":2,"l":30,"x":6700,"y":2000,"y2":7800},{"p":"D","b":2,"l":30,"x":8400,"y":2800,"y2":7400},{"p":"D","b":2,"l":30,"x":9800,"y":3900,"y2":6300},{"p":"D","b":2,"l":30,"x":10400,"y":5000,"y2":5300},
{"p":"D","b":3,"l":50,"x":6900,"y":5000,"y2":5000},{"p":"D","b":3,"l":50,"x":7250,"y":4700,"y2":5300},{"p":"D","b":3,"l":50,"x":7600,"y":5000,"y2":5000},
{"p":"D","b":4,"l":50,"x":26100,"y":4700,"y2":5000},{"p":"D","b":4,"l":50,"x":26500,"y":4000,"y2":5500},{"p":"D","b":4,"l":50,"x":27000,"y":3900,"y2":5600},{"p":"D","b":4,"l":50,"x":27700,"y":4500,"y2":5100},
{"p":"D","b":5,"l":50,"x":6300,"y":16900,"y2":17400},{"p":"D","b":5,"l":50,"x":6900,"y":16200,"y2":17700},{"p":"D","b":5,"l":50,"x":8400,"y":16300,"y2":17900},{"p":"D","b":5,"l":50,"x":11500,"y":16300,"y2":17900},
{"p":"D","b":6,"l":50,"x":11200,"y":16000,"y2":16500},{"p":"D","b":6,"l":50,"x":12100,"y":12800,"y2":18100},{"p":"D","b":6,"l":50,"x":12900,"y":10500,"y2":19200},{"p":"D","b":6,"l":50,"x":15000,"y":9200,"y2":20400},{"p":"D","b":6,"l":50,"x":16400,"y":9000,"y2":19900},{"p":"D","b":6,"l":50,"x":17800,"y":8900,"y2":18700},{"p":"D","b":6,"l":50,"x":18300,"y":7700,"y2":17100},{"p":"D","b":6,"l":50,"x":18800,"y":7500,"y2":15500},{"p":"D","b":6,"l":50,"x":19900,"y":7500,"y2":11200},{"p":"D","b":6,"l":50,"x":20900,"y":8200,"y2":10000},{"p":"D","b":6,"l":50,"x":21800,"y":8900,"y2":9000},
{"p":"D","b":7,"l":70,"x":11200,"y":15900,"y2":16300},{"p":"D","b":7,"l":70,"x":12200,"y":13200,"y2":18300},{"p":"D","b":7,"l":70,"x":14000,"y":10500,"y2":19600},{"p":"D","b":7,"l":70,"x":15000,"y":10300,"y2":19900},{"p":"D","b":7,"l":70,"x":16400,"y":10900,"y2":19200},{"p":"D","b":7,"l":70,"x":17800,"y":12500,"y2":17100},{"p":"D","b":7,"l":70,"x":18700,"y":15000,"y2":15500},
{"p":"D","b":8,"l":90,"x":11800,"y":15500,"y2":16500},{"p":"D","b":8,"l":90,"x":12800,"y":13500,"y2":18300},{"p":"D","b":8,"l":90,"x":14000,"y":12000,"y2":19100},{"p":"D","b":8,"l":90,"x":15000,"y":11200,"y2":19400},{"p":"D","b":8,"l":90,"x":16000,"y":11800,"y2":18900},{"p":"D","b":8,"l":90,"x":17100,"y":13500,"y2":17300},{"p":"D","b":8,"l":90,"x":18000,"y":15000,"y2":15500},
{"p":"D","b":9,"l":110,"x":12400,"y":15500,"y2":16500},{"p":"D","b":9,"l":110,"x":13000,"y":14200,"y2":17900},{"p":"D","b":9,"l":110,"x":14000,"y":13000,"y2":18600},{"p":"D","b":9,"l":110,"x":15000,"y":12200,"y2":19000},{"p":"D","b":9,"l":110,"x":16000,"y":12800,"y2":18400},{"p":"D","b":9,"l":110,"x":17000,"y":14500,"y2":17200},{"p":"D","b":9,"l":110,"x":17500,"y":15300,"y2":15800},
{"p":"D","b":10,"l":130,"x":12900,"y":15500,"y2":17000},{"p":"D","b":10,"l":130,"x":13500,"y":14000,"y2":18100},{"p":"D","b":10,"l":130,"x":15000,"y":13000,"y2":18700},{"p":"D","b":10,"l":130,"x":16000,"y":13700,"y2":18000},{"p":"D","b":10,"l":130,"x":17000,"y":15500,"y2":16500},
{"p":"D","b":11,"l":150,"x":13400,"y":15700,"y2":16700},{"p":"D","b":11,"l":150,"x":14000,"y":14600,"y2":17700},{"p":"D","b":11,"l":150,"x":15000,"y":13800,"y2":18200},{"p":"D","b":11,"l":150,"x":16000,"y":14500,"y2":17500},{"p":"D","b":11,"l":150,"x":16800,"y":15800,"y2":16300},
{"p":"D","b":12,"l":170,"x":14000,"y":16000,"y2":17000},{"p":"D","b":12,"l":170,"x":15000,"y":14500,"y2":17800},{"p":"D","b":12,"l":170,"x":15800,"y":15500,"y2":17000},{"p":"D","b":12,"l":170,"x":16200,"y":16000,"y2":16300},
{"p":"D","b":13,"l":190,"x":14400,"y":16000,"y2":17000},{"p":"D","b":13,"l":190,"x":15000,"y":15000,"y2":17400},{"p":"D","b":13,"l":190,"x":15600,"y":15500,"y2":16800},
{"p":"D","b":14,"l":210,"x":14700,"y":15300,"y2":15800},{"p":"D","b":14,"l":210,"x":15000,"y":14800,"y2":16000},{"p":"D","b":14,"l":210,"x":15300,"y":15300,"y2":15800}
]},
"columns":2,"spacing":{"row":49,"column":91.5},"bounds":"flush",
"concat":[
{"width":360,"height":243,"encoding":{"x":{"field":"x","type":"quantitative","scale":{"domain":[0,37500],"nice":false},"axis":{"tickCount":38,"labelExpr":"datum.value%5000===0&&datum.value<=35000?format(datum.value,'d'):''","tickSize":{"condition":{"test":"datum.value%5000===0","value":5},"value":0},"zindex":1}},"y":{"field":"y","type":"quantitative","scale":{"domain":[0,24000],"nice":false},"axis":{"tickCount":24,"labelExpr":"datum.value%5000===0?format(datum.value,'d'):''","tickSize":{"condition":{"test":"datum.value%5000===0","value":5},"value":0},"zindex":1}}},
"layer":[
{"data":{"name":"contours"},"transform":[{"filter":"datum.p=='A'"}],"mark":{"type":"area","interpolate":"monotone","stroke":"#26402c","strokeWidth":0.6,"strokeOpacity":0.3},"encoding":{"y2":{"field":"y2"},"detail":{"field":"b"},"color":{"field":"l","type":"ordinal","legend":null,"scale":{"domain":[10,30,50,70,90,110,130,150,170,190,210,230,250],"range":["#4fa86b","#aed14d","#f7e948","#f58040","#e03328","#ee86ad","#d3a3cb","#bb7cb4","#9a6db0","#7d63ae","#6f58a8","#5f51a2","#554ea0"]}}}},
{"data":{"name":"lines"},"mark":{"type":"rule","color":"black","strokeWidth":3.5,"strokeDash":[18,19]},"encoding":{"x2":{"field":"x2"},"y2":{"field":"y2"}}},
{"data":{"name":"points"},"mark":{"type":"circle","color":"#222","size":32,"opacity":1}},
{"data":{"name":"dark"},"mark":{"type":"text","fontSize":21,"color":"#2a2a2a","baseline":"middle"},"encoding":{"text":{"field":"t"}}},
{"data":{"name":"white"},"mark":{"type":"text","fontSize":31,"color":"white","baseline":"middle"},"encoding":{"text":{"field":"t"}}},
{"data":{"name":"letters"},"transform":[{"filter":"datum.p=='A'"}],"mark":{"type":"text","fontSize":31,"color":"#222","baseline":"middle"},"encoding":{"text":{"field":"t"}}}
]},
{"width":360,"height":243,
"resolve":{"scale":{"x":"independent","y":"independent"},"axis":{"x":"independent","y":"independent"}},
"layer":[
{"encoding":{"x":{"field":"x","type":"quantitative","scale":{"domain":[0,37500],"nice":false},"axis":{"tickCount":38,"labelExpr":"datum.value%5000===0&&datum.value<=35000?format(datum.value,'d'):''","tickSize":{"condition":{"test":"datum.value%5000===0","value":5},"value":0},"zindex":1}},"y":{"field":"y","type":"quantitative","scale":{"domain":[0,24000],"nice":false},"axis":{"tickCount":24,"labelExpr":"datum.value%5000===0?format(datum.value,'d'):''","tickSize":{"condition":{"test":"datum.value%5000===0","value":5},"value":0},"zindex":1}}},
"layer":[
{"data":{"name":"contours"},"transform":[{"filter":"datum.p=='B'"}],"mark":{"type":"area","interpolate":"monotone","stroke":"#26402c","strokeWidth":0.6,"strokeOpacity":0.3},"encoding":{"y2":{"field":"y2"},"detail":{"field":"b"},"color":{"field":"l","type":"ordinal","legend":null,"scale":{"domain":[10,30,50,70,90,110,130,150,170,190,210,230,250],"range":["#4fa86b","#aed14d","#f7e948","#f58040","#e03328","#ee86ad","#d3a3cb","#bb7cb4","#9a6db0","#7d63ae","#6f58a8","#5f51a2","#554ea0"]}}}},
{"data":{"name":"lines"},"mark":{"type":"rule","color":"black","strokeWidth":3.5,"strokeDash":[18,19]},"encoding":{"x2":{"field":"x2"},"y2":{"field":"y2"}}},
{"data":{"name":"points"},"mark":{"type":"circle","color":"#222","size":32,"opacity":1}},
{"data":{"name":"dark"},"mark":{"type":"text","fontSize":21,"color":"#2a2a2a","baseline":"middle"},"encoding":{"text":{"field":"t"}}},
{"data":{"name":"white"},"mark":{"type":"text","fontSize":31,"color":"white","baseline":"middle"},"encoding":{"text":{"field":"t"}}},
{"data":{"name":"letters"},"transform":[{"filter":"datum.p=='B'"}],"mark":{"type":"text","fontSize":31,"color":"#222","baseline":"middle"},"encoding":{"text":{"field":"t"}}}
]},
{"encoding":{"y":{"field":"y","type":"quantitative","scale":{"domain":[0,332],"range":[466,0],"nice":false},"axis":{"orient":"right","offset":52.5,"values":[0,20,40,60,80,100,120,140,160,180,200,220,240],"grid":false,"labelFontSize":13,"labelColor":"#333","tickSize":3,"tickColor":"#333","labelPadding":2}},"x":{"field":"x","type":"quantitative","scale":{"domain":[0,1],"range":[389.5,412.5],"nice":false},"axis":null}},
"layer":[
{"data":{"name":"bins"},"mark":{"type":"rect","stroke":"#4a4a55","strokeWidth":0.6},"encoding":{"x2":{"field":"x2"},"y2":{"field":"y2"},"fill":{"field":"l","type":"ordinal","legend":null,"scale":{"domain":[10,30,50,70,90,110,130,150,170,190,210,230,250],"range":["#4fa86b","#aed14d","#f7e948","#f58040","#e03328","#ee86ad","#d3a3cb","#bb7cb4","#9a6db0","#7d63ae","#6f58a8","#5f51a2","#554ea0"]}}}},
{"data":{"values":[{"t":"wartość","x":0.84,"y":307},{"t":"parametru","x":0.84,"y":292}]},"mark":{"type":"text","fontSize":18,"color":"#222","baseline":"middle","align":"center"},"encoding":{"text":{"field":"t"}}},
{"data":{"values":[{"t":"h","x":0.1,"y":276}]},"mark":{"type":"text","fontSize":18,"fontStyle":"italic","color":"#222","baseline":"middle","align":"center"},"encoding":{"text":{"field":"t"}}},
{"data":{"values":[{"t":"4","x":0.43,"y":272}]},"mark":{"type":"text","fontSize":13,"color":"#222","baseline":"middle","align":"center"},"encoding":{"text":{"field":"t"}}},
{"data":{"values":[{"t":"[m]","x":1.35,"y":276}]},"mark":{"type":"text","fontSize":18,"color":"#222","baseline":"middle","align":"center"},"encoding":{"text":{"field":"t"}}}
]}
]},
{"width":360,"height":243,"encoding":{"x":{"field":"x","type":"quantitative","scale":{"domain":[0,37500],"nice":false},"axis":{"tickCount":38,"labelExpr":"datum.value%5000===0&&datum.value<=35000?format(datum.value,'d'):''","tickSize":{"condition":{"test":"datum.value%5000===0","value":5},"value":0},"zindex":1}},"y":{"field":"y","type":"quantitative","scale":{"domain":[0,24000],"nice":false},"axis":{"tickCount":24,"labelExpr":"datum.value%5000===0?format(datum.value,'d'):''","tickSize":{"condition":{"test":"datum.value%5000===0","value":5},"value":0},"zindex":1}}},
"layer":[
{"data":{"name":"contours"},"transform":[{"filter":"datum.p=='C'"}],"mark":{"type":"area","interpolate":"monotone","stroke":"#26402c","strokeWidth":0.6,"strokeOpacity":0.3},"encoding":{"y2":{"field":"y2"},"detail":{"field":"b"},"color":{"field":"l","type":"ordinal","legend":null,"scale":{"domain":[10,30,50,70,90,110,130,150,170,190,210,230,250],"range":["#4fa86b","#aed14d","#f7e948","#f58040","#e03328","#ee86ad","#d3a3cb","#bb7cb4","#9a6db0","#7d63ae","#6f58a8","#5f51a2","#554ea0"]}}}},
{"data":{"name":"lines"},"mark":{"type":"rule","color":"black","strokeWidth":3.5,"strokeDash":[18,19]},"encoding":{"x2":{"field":"x2"},"y2":{"field":"y2"}}},
{"data":{"name":"points"},"mark":{"type":"circle","color":"#222","size":32,"opacity":1}},
{"data":{"name":"dark"},"mark":{"type":"text","fontSize":21,"color":"#2a2a2a","baseline":"middle"},"encoding":{"text":{"field":"t"}}},
{"data":{"name":"white"},"mark":{"type":"text","fontSize":31,"color":"white","baseline":"middle"},"encoding":{"text":{"field":"t"}}},
{"data":{"name":"letters"},"transform":[{"filter":"datum.p=='C'"}],"mark":{"type":"text","fontSize":31,"color":"#222","baseline":"middle"},"encoding":{"text":{"field":"t"}}}
]},
{"width":360,"height":243,"encoding":{"x":{"field":"x","type":"quantitative","scale":{"domain":[0,37500],"nice":false},"axis":{"tickCount":38,"labelExpr":"datum.value%5000===0&&datum.value<=35000?format(datum.value,'d'):''","tickSize":{"condition":{"test":"datum.value%5000===0","value":5},"value":0},"zindex":1}},"y":{"field":"y","type":"quantitative","scale":{"domain":[0,24000],"nice":false},"axis":{"tickCount":24,"labelExpr":"datum.value%5000===0?format(datum.value,'d'):''","tickSize":{"condition":{"test":"datum.value%5000===0","value":5},"value":0},"zindex":1}}},
"layer":[
{"data":{"name":"contours"},"transform":[{"filter":"datum.p=='D'"}],"mark":{"type":"area","interpolate":"monotone","stroke":"#26402c","strokeWidth":0.6,"strokeOpacity":0.3},"encoding":{"y2":{"field":"y2"},"detail":{"field":"b"},"color":{"field":"l","type":"ordinal","legend":null,"scale":{"domain":[10,30,50,70,90,110,130,150,170,190,210,230,250],"range":["#4fa86b","#aed14d","#f7e948","#f58040","#e03328","#ee86ad","#d3a3cb","#bb7cb4","#9a6db0","#7d63ae","#6f58a8","#5f51a2","#554ea0"]}}}},
{"data":{"name":"lines"},"mark":{"type":"rule","color":"black","strokeWidth":3.5,"strokeDash":[18,19]},"encoding":{"x2":{"field":"x2"},"y2":{"field":"y2"}}},
{"data":{"name":"points"},"mark":{"type":"circle","color":"#222","size":32,"opacity":1}},
{"data":{"name":"dark"},"mark":{"type":"text","fontSize":21,"color":"#2a2a2a","baseline":"middle"},"encoding":{"text":{"field":"t"}}},
{"data":{"name":"white"},"mark":{"type":"text","fontSize":31,"color":"white","baseline":"middle"},"encoding":{"text":{"field":"t"}}},
{"data":{"name":"letters"},"transform":[{"filter":"datum.p=='D'"}],"mark":{"type":"text","fontSize":31,"color":"#222","baseline":"middle"},"encoding":{"text":{"field":"t"}}}
]}
]}
